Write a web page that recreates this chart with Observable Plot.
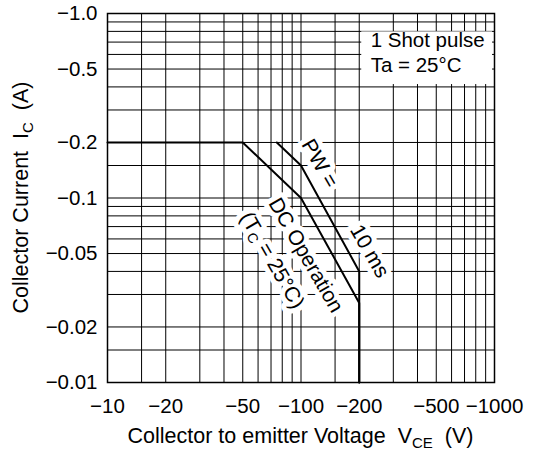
<!DOCTYPE html>
<html>
<head>
<meta charset="utf-8">
<script src="https://cdn.jsdelivr.net/npm/d3@7"></script>
<script src="https://cdn.jsdelivr.net/npm/@observablehq/plot@0.6"></script>
<style>
  html, body { margin: 0; padding: 0; background: #fff; }
  svg text { white-space: pre; }
</style>
</head>
<body>
<div id="chart"></div>
<script>
// Axis ticks and labels
const xTickValues = [-10, -20, -50, -100, -200, -500, -1000];
const xTickLabels = ["−10", "−20", "−50", "−100", "−200", "−500", "−1000"];
const yTickValues = [-1, -0.5, -0.2, -0.1, -0.05, -0.02, -0.01];
const yTickLabels = ["−1.0", "−0.5", "−0.2", "−0.1", "−0.05", "−0.02", "−0.01"];

// Grid lines
const xGrid = [-10, -15, -20, -30, -40, -50, -60, -70, -80, -90, -100, -150, -200, -300, -400, -500, -600, -700, -800, -900, -1000];
const yGrid = [-1, -0.9, -0.8, -0.7, -0.6, -0.5, -0.4, -0.3, -0.2, -0.15, -0.1, -0.09, -0.08, -0.07, -0.06, -0.05, -0.04, -0.03, -0.02, -0.015, -0.01];

// DC operation boundary (Tc = 25°C)
const dcVce = [-10, -50, -100, -200, -200];
const dcIc = [-0.2, -0.2, -0.1, -0.027, -0.01];

// PW = 10 ms boundary
const pwVce = [-75, -100, -200, -200];
const pwIc = [-0.2, -0.15, -0.04, -0.01];

// Annotations
const noteLabels = ["PW =", "10 ms", "DC Operation", "(TC = 25°C)"];
const noteVce = [-125, -226, -106, -71];
const noteIc = [-0.154, -0.0515, -0.049, -0.046];
const conditionLabels = ["1 Shot pulse", "Ta = 25°C"];
const conditionVce = [-229, -229];
const conditionIc = [-0.714, -0.523];
const boxVce = [-206, -977];
const boxIc = [-0.795, -0.412];

const dc = dcVce.map((v, i) => ({v, i: dcIc[i]}));
const pw = pwVce.map((v, i) => ({v, i: pwIc[i]}));
const notes = noteLabels.map((t, k) => ({t, v: noteVce[k], i: noteIc[k]}));
const conds = conditionLabels.map((t, k) => ({t, v: conditionVce[k], i: conditionIc[k]}));

const font = "'Liberation Sans', Arial, Helvetica, sans-serif";

const chart = Plot.plot({
  width: 538,
  height: 455,
  marginLeft: 107,
  marginRight: 44,
  marginTop: 13,
  marginBottom: 73,
  style: {fontFamily: font, fontSize: "20.5px", color: "#000", background: "#fff"},
  x: {type: "log", domain: [-10, -1000]},
  y: {type: "log", domain: [-0.01, -1]},
  marks: [
    Plot.ruleX(xGrid, {stroke: "#000", strokeWidth: 1}),
    Plot.ruleY(yGrid, {stroke: "#000", strokeWidth: 1}),
    Plot.rect([0], {x1: () => boxVce[0], x2: () => boxVce[1], y1: () => boxIc[0], y2: () => boxIc[1], fill: "#fff"}),
    Plot.text(conds, {x: "v", y: "i", text: "t", textAnchor: "start", fill: "#000", fontSize: 20.5}),
    Plot.text(notes, {x: "v", y: "i", text: "t", rotate: 60, fill: "#000", stroke: "#fff", strokeWidth: 10, paintOrder: "stroke", fontSize: 21}),
    Plot.line(dc, {x: "v", y: "i", stroke: "#000", strokeWidth: 2}),
    Plot.line(pw, {x: "v", y: "i", stroke: "#000", strokeWidth: 2}),
    Plot.frame({stroke: "#000", strokeWidth: 1.5}),
    Plot.axisX({ticks: xTickValues, tickSize: 0, tickPadding: 16, fontSize: 20.5,
      tickFormat: d => xTickLabels[xTickValues.indexOf(d)], label: null}),
    Plot.axisY({ticks: yTickValues, tickSize: 0, tickPadding: 10, fontSize: 20.5,
      tickFormat: d => yTickLabels[yTickValues.indexOf(d)], label: null})
  ]
});

document.getElementById("chart").appendChild(chart);

const svg = d3.select(chart);

// Subscript in "(TC = 25°C)"
svg.selectAll("text").each(function() {
  const el = d3.select(this);
  if (el.text() === "(TC = 25°C)") {
    el.text(null);
    el.append("tspan").text("(T");
    el.append("tspan").attr("font-size", 14).attr("dy", 4).text("C");
    el.append("tspan").attr("dy", -4).text(" = 25°C)");
  }
});

// X axis title
const xt = svg.append("text")
  .attr("x", 300.5).attr("y", 443)
  .attr("text-anchor", "middle")
  .attr("font-size", 21.5).attr("font-family", font).attr("fill", "#000");
xt.append("tspan").text("Collector to emitter Voltage  V");
xt.append("tspan").attr("font-size", 15).attr("dy", 5).text("CE");
xt.append("tspan").attr("dy", -5).text("  (V)");

// Y axis title
const yt = svg.append("text")
  .attr("transform", "translate(28,197.5) rotate(-90)")
  .attr("text-anchor", "middle")
  .attr("font-size", 21.5).attr("font-family", font).attr("fill", "#000");
yt.append("tspan").text("Collector Current  I");
yt.append("tspan").attr("font-size", 15).attr("dy", 5).text("C");
yt.append("tspan").attr("dy", -5).text("  (A)");
</script>
</body>
</html>
